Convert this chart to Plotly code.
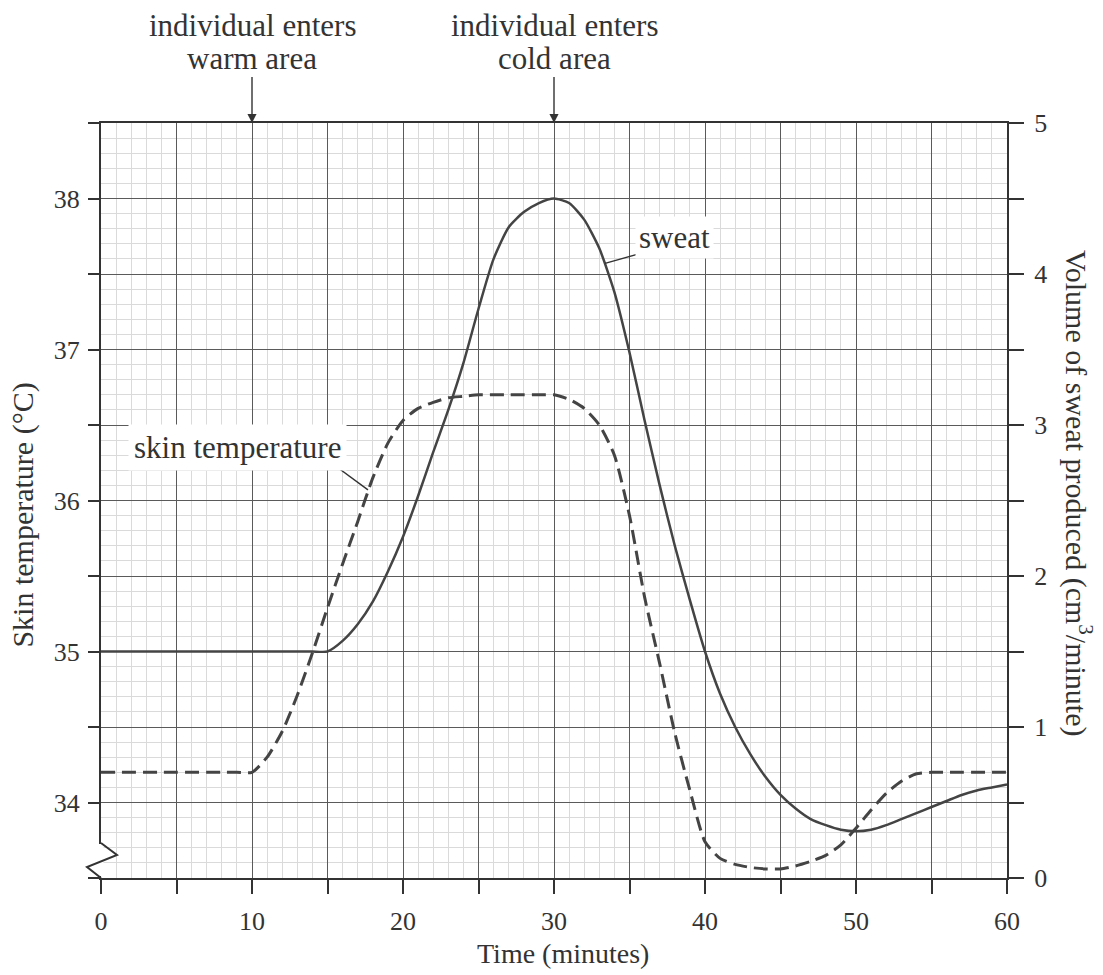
import plotly.graph_objects as go

# ---------------- data ----------------
time_min = list(range(0, 61))

skin_temp = [34.2, 34.2, 34.2, 34.2, 34.2, 34.2, 34.2, 34.2, 34.2, 34.2,
             34.2, 34.3, 34.47, 34.71, 34.99, 35.29, 35.58, 35.86, 36.15, 36.38,
             36.53, 36.61, 36.65, 36.68, 36.69, 36.7, 36.7, 36.7, 36.7, 36.7,
             36.7, 36.67, 36.61, 36.5, 36.3, 35.9, 35.36, 34.92, 34.46, 34.08,
             33.74, 33.63, 33.59, 33.57, 33.56, 33.56, 33.58, 33.61, 33.65, 33.72,
             33.83, 33.95, 34.06, 34.14, 34.19, 34.2, 34.2, 34.2, 34.2, 34.2,
             34.2]

sweat = [1.5, 1.5, 1.5, 1.5, 1.5, 1.5, 1.5, 1.5, 1.5, 1.5,
         1.5, 1.5, 1.5, 1.5, 1.5, 1.5, 1.57, 1.68, 1.83, 2.03,
         2.26, 2.53, 2.82, 3.1, 3.41, 3.77, 4.1, 4.31, 4.41, 4.47,
         4.5, 4.47, 4.36, 4.17, 3.88, 3.48, 3.03, 2.6, 2.2, 1.84,
         1.5, 1.22, 1.0, 0.82, 0.67, 0.55, 0.46, 0.39, 0.35, 0.32,
         0.31, 0.32, 0.35, 0.39, 0.43, 0.47, 0.51, 0.55, 0.58, 0.6,
         0.62]

x_tickvals = [0, 5, 10, 15, 20, 25, 30, 35, 40, 45, 50, 55, 60]
x_ticktext = ["0", "", "10", "", "20", "", "30", "", "40", "", "50", "", "60"]
y_tickvals = [33.5, 34, 34.5, 35, 35.5, 36, 36.5, 37, 37.5, 38, 38.5]
y_ticktext = ["", "34", "", "35", "", "36", "", "37", "", "38", ""]
y2_tickvals = [0, 0.5, 1, 1.5, 2, 2.5, 3, 3.5, 4, 4.5, 5]
y2_ticktext = ["0", "", "1", "", "2", "", "3", "", "4", "", "5"]

event_times = [10, 30]
event_line1 = ["individual enters", "individual enters"]
event_line2 = ["warm area", "cold area"]

FONT = "Liberation Serif"
INK = "#333333"
CURVE = "#444444"

fig = go.Figure()

fig.add_trace(go.Scatter(
    x=time_min, y=skin_temp, mode="lines", name="skin temperature",
    line=dict(color=CURVE, width=3, dash="14px,7px", shape="spline", smoothing=0.6),
    yaxis="y", showlegend=False, hoverinfo="skip"))

fig.add_trace(go.Scatter(
    x=time_min, y=sweat, mode="lines", name="sweat",
    line=dict(color=CURVE, width=2.5, shape="spline", smoothing=0.6),
    yaxis="y2", showlegend=False, hoverinfo="skip"))

fig.update_layout(
    width=1103, height=975,
    margin=dict(l=101, r=96, t=123, b=97, autoexpand=False),
    paper_bgcolor="white", plot_bgcolor="white",
    font=dict(family=FONT, size=26, color=INK),
    xaxis=dict(
        range=[0, 60], tickmode="array", tickvals=x_tickvals, ticktext=x_ticktext,
        ticks="outside", ticklen=14, tickwidth=1.5, tickcolor=INK,
        ticklabelstandoff=5, automargin=False,
        showline=True, linewidth=2, linecolor=INK, mirror=True,
        showgrid=True, gridcolor="#5a5a5a", gridwidth=1.3,
        zeroline=False,
        minor=dict(tickmode="linear", tick0=0, dtick=1, showgrid=True,
                   gridcolor="#dadada", gridwidth=1, ticks=""),
    ),
    yaxis=dict(
        range=[33.5, 38.5], tickmode="array", tickvals=y_tickvals, ticktext=y_ticktext,
        ticks="outside", ticklen=11, tickwidth=1.5, tickcolor=INK,
        ticklabelstandoff=3, automargin=False,
        showline=True, linewidth=2, linecolor=INK,
        showgrid=True, gridcolor="#5a5a5a", gridwidth=1.3,
        zeroline=False,
        minor=dict(tickmode="linear", tick0=33.5, dtick=0.1, showgrid=True,
                   gridcolor="#dadada", gridwidth=1, ticks=""),
    ),
    yaxis2=dict(
        range=[0, 5], overlaying="y", side="right",
        tickmode="array", tickvals=y2_tickvals, ticktext=y2_ticktext,
        ticks="outside", ticklen=15, tickwidth=1.5, tickcolor=INK,
        ticklabelstandoff=5, automargin=False,
        showline=True, linewidth=2, linecolor=INK,
        showgrid=False, zeroline=False,
    ),
)

annotations = []
for t, l1, l2 in zip(event_times, event_line1, event_line2):
    annotations.append(dict(
        x=t, y=1, xref="x", yref="paper", yshift=98, yanchor="middle",
        text=l1, showarrow=False, font=dict(size=31, color=INK)))
    annotations.append(dict(
        x=t, y=38.5, xref="x", yref="y", text=l2,
        showarrow=True, ax=0, ay=-65, arrowhead=2, arrowsize=1.3, arrowwidth=1.4,
        arrowcolor=INK, font=dict(size=31, color=INK)))

annotations += [
    dict(x=38.0, y=37.745, xref="x", yref="y", text="sweat", showarrow=False,
         bgcolor="white", borderpad=3, font=dict(size=31, color=INK)),
    dict(x=9.07, y=36.35, xref="x", yref="y", text="skin temperature", showarrow=False,
         bgcolor="white", borderpad=5, font=dict(size=31, color=INK)),
    dict(x=0, y=0.48, xref="paper", yref="paper", xshift=-78, xanchor="center",
         yanchor="middle", text="Skin temperature (°C)",
         textangle=-90, showarrow=False, font=dict(size=30, color=INK)),
    dict(x=1, y=0.51, xref="paper", yref="paper", xshift=71, xanchor="center",
         yanchor="middle",
         text="Volume of sweat produced (cm<sup>3</sup>/minute)",
         textangle=90, showarrow=False, font=dict(size=30, color=INK)),
    dict(x=0.51, y=0, xref="paper", yref="paper", yshift=-75, xanchor="center",
         yanchor="middle", text="Time (minutes)",
         showarrow=False, font=dict(size=28, color=INK)),
]
fig.update_layout(annotations=annotations)

shapes = [
    # pointer lines for the curve labels
    dict(type="line", xref="x", yref="y", x0=14.7, y0=36.29, x1=17.68, y1=36.07,
         line=dict(color=INK, width=1.4), layer="above"),
    dict(type="line", xref="x", yref="y", x0=36.56, y0=37.66, x1=33.38, y1=37.57,
         line=dict(color=INK, width=1.4), layer="above"),
    # axis-break symbol on the left axis
    dict(type="line", xref="paper", yref="paper", xsizemode="pixel", ysizemode="pixel",
         xanchor=0, yanchor=0, x0=0, y0=2, x1=0, y1=34,
         line=dict(color="white", width=5), layer="above"),
    dict(type="path", xref="paper", yref="paper", xsizemode="pixel", ysizemode="pixel",
         xanchor=0, yanchor=0, path="M 0 35 L 16 23 L -14 11 L 0 0",
         line=dict(color=INK, width=2), layer="above"),
]
fig.update_layout(shapes=shapes)

fig.write_html("out.html", config={"displayModeBar": False},
               post_script="document.body.style.margin='0px';")
